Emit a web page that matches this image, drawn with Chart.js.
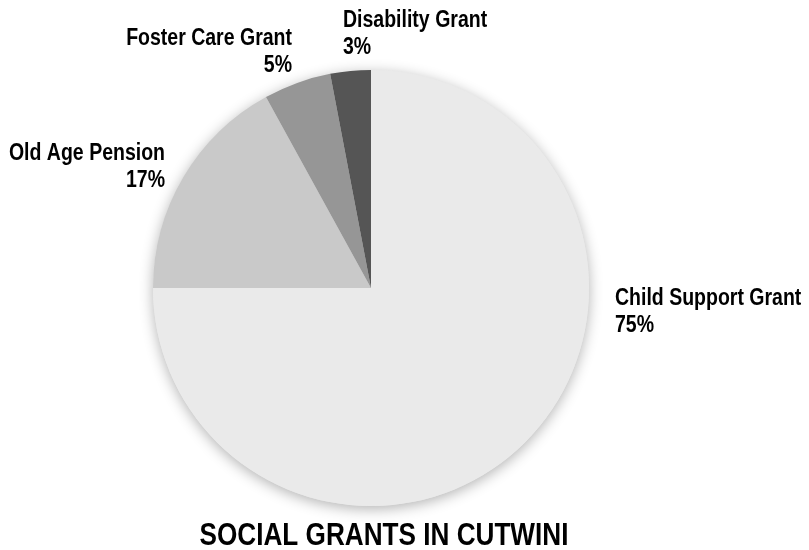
<!DOCTYPE html>
<html>
<head>
<meta charset="utf-8">
<script src="https://cdn.jsdelivr.net/npm/chart.js@4.4.1/dist/chart.umd.min.js"></script>
<style>
  html, body { margin: 0; padding: 0; background: #fff; }
</style>
</head>
<body>
<canvas id="chart" width="809" height="550"></canvas>
<script>
const grantLabels = ["Child Support Grant", "Old Age Pension", "Foster Care Grant", "Disability Grant"];
const grantShares = [75, 17, 5, 3];
const sliceColors = ["#eaeaea", "#c9c9c9", "#969696", "#555555"];
const chartTitle = "SOCIAL GRANTS IN CUTWINI";

// no Arial Narrow here, so squeeze Liberation Sans Bold sideways
const FONT = "'Liberation Sans', Arial, sans-serif";
const SQUEEZE = 0.83;

// Excel-ish label spots, offsets from pie centre (baseline of first line)
const labelSpots = [
  { dx: 244, dy: 17, align: "left" },
  { dx: -206, dy: -128, align: "right" },
  { dx: -79, dy: -243, align: "right" },
  { dx: -28, dy: -261, align: "left" },
];

function narrowText(ctx, text, x, y) {
  ctx.save();
  ctx.translate(x, y);
  ctx.scale(SQUEEZE, 1);
  ctx.fillText(text, 0, 0);
  ctx.restore();
}

const pieExtras = {
  id: "pieExtras",
  beforeDatasetsDraw(chart) {
    const arc = chart.getDatasetMeta(0).data[0];
    if (!arc) return;
    const ctx = chart.ctx;
    ctx.save();
    ctx.shadowColor = "rgba(0,0,0,0.30)";
    ctx.shadowBlur = 14;
    ctx.shadowOffsetY = 3;
    ctx.fillStyle = "#eaeaea";
    ctx.beginPath();
    ctx.arc(arc.x, arc.y, arc.outerRadius, 0, Math.PI * 2);
    ctx.fill();
    ctx.restore();
  },
  afterDatasetsDraw(chart) {
    const meta = chart.getDatasetMeta(0);
    const ctx = chart.ctx;
    const total = grantShares.reduce((a, b) => a + b, 0);
    ctx.save();
    ctx.fillStyle = "#000";
    ctx.textBaseline = "alphabetic";
    ctx.font = "bold 23.5px " + FONT;
    meta.data.forEach((arc, i) => {
      const spot = labelSpots[i];
      const x = arc.x + spot.dx;
      const y = arc.y + spot.dy;
      ctx.textAlign = spot.align;
      narrowText(ctx, grantLabels[i], x, y);
      narrowText(ctx, Math.round(grantShares[i] / total * 100) + "%", x, y + 27);
    });
    ctx.font = "bold 31.5px " + FONT;
    ctx.textAlign = "center";
    narrowText(ctx, chartTitle, 384, 545);
    ctx.restore();
  },
};

new Chart(document.getElementById("chart"), {
  type: "pie",
  data: {
    labels: grantLabels,
    datasets: [
      {
        data: grantShares,
        backgroundColor: sliceColors,
        borderWidth: 0,
      },
    ],
  },
  options: {
    responsive: false,
    animation: false,
    layout: {
      padding: { top: 70, bottom: 44, left: 153, right: 220 },
    },
    plugins: {
      legend: { display: false },
      tooltip: { enabled: false },
      title: { display: false },
    },
  },
  plugins: [pieExtras],
});
</script>
</body>
</html>
